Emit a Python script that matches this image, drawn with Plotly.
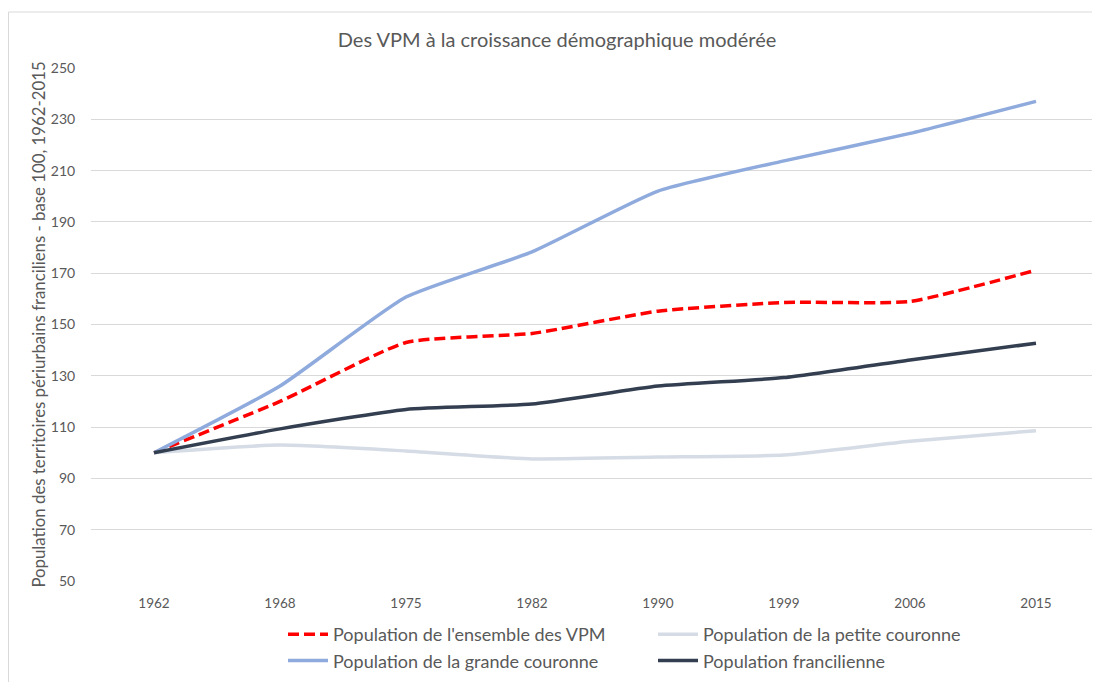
import plotly.graph_objects as go

years = ["1962", "1968", "1975", "1982", "1990", "1999", "2006", "2015"]
vpm = [100, 120, 143, 146.5, 155.2, 158.6, 159, 171.2]
petite = [100, 103, 100.7, 97.6, 98.3, 99.1, 104.5, 108.6]
grande = [100, 126, 160.7, 178.3, 202, 213.8, 224.5, 237]
franc = [100, 109.3, 116.9, 119, 126, 129.3, 136.2, 142.7]

names = ["Population de l'ensemble des VPM", "Population de la petite couronne",
         "Population de la grande couronne", "Population francilienne"]

font_fam = "Lato, Open Sans, sans-serif"
txt = "#595959"

fig = go.Figure()
series = [
    (vpm, names[0], "#FF0000", "11px,5px"),
    (petite, names[1], "#D6DCE5", "solid"),
    (grande, names[2], "#8FAADC", "solid"),
    (franc, names[3], "#333F50", "solid"),
]
for vals, nm, col, dash in series:
    fig.add_trace(go.Scatter(
        x=years, y=vals, name=nm, mode="lines",
        line=dict(color=col, width=3.5, dash=dash, shape="spline", smoothing=0.5),
    ))

# page has an 8px body margin: figure coordinates = page coordinates - 8
W, H = 1092, 674
L, R, T, B = 83, 1, 60, 101
pw, ph = W - L - R, H - T - B

fig.update_layout(
    width=W, height=H,
    margin=dict(l=L, r=R, t=T, b=B, autoexpand=False),
    paper_bgcolor="white", plot_bgcolor="white",
    font=dict(family=font_fam, color=txt),
    title=dict(text="Des VPM à la croissance démographique modérée",
               x=549 / W, xanchor="center", y=1 - 32 / H, yanchor="middle",
               yref="container", font=dict(size=20, color=txt)),
    legend=dict(orientation="h", x=(275 - L) / pw, xanchor="left",
                y=-(608 - (T + ph)) / ph, yanchor="top",
                entrywidth=315, entrywidthmode="pixels",
                font=dict(size=18, color=txt), tracegroupgap=0,
                itemwidth=40),
    showlegend=True,
)
fig.update_xaxes(type="category", range=[-0.5, 7.5], showgrid=False, showline=False, zeroline=False,
                 ticks="outside", ticklen=10, tickcolor="rgba(0,0,0,0)",
                 tickfont=dict(size=13.5, color=txt))
fig.update_yaxes(range=[50, 250], dtick=20, tick0=50, showgrid=True, gridcolor="#D9D9D9",
                 gridwidth=1, zeroline=False, showline=False,
                 ticks="outside", ticklen=12, tickcolor="rgba(0,0,0,0)",
                 tickfont=dict(size=14, color=txt),
                 title=dict(text="Population des territoires périurbains franciliens - base 100, 1962-2015",
                            font=dict(size=16.8, color=txt), standoff=0))

# chart border (light)
x_left = (0.5 - L) / pw
y_top = (T + ph - 4) / ph
fig.add_shape(type="line", xref="paper", yref="paper", x0=x_left, x1=x_left,
              y0=y_top, y1=-(H - T - ph) / ph - 0.01, line=dict(color="#D9D9D9", width=1))
fig.add_shape(type="line", xref="paper", yref="paper", x0=x_left, x1=1.01,
              y0=y_top, y1=y_top, line=dict(color="#D9D9D9", width=1))

fig.write_html("out.html")
